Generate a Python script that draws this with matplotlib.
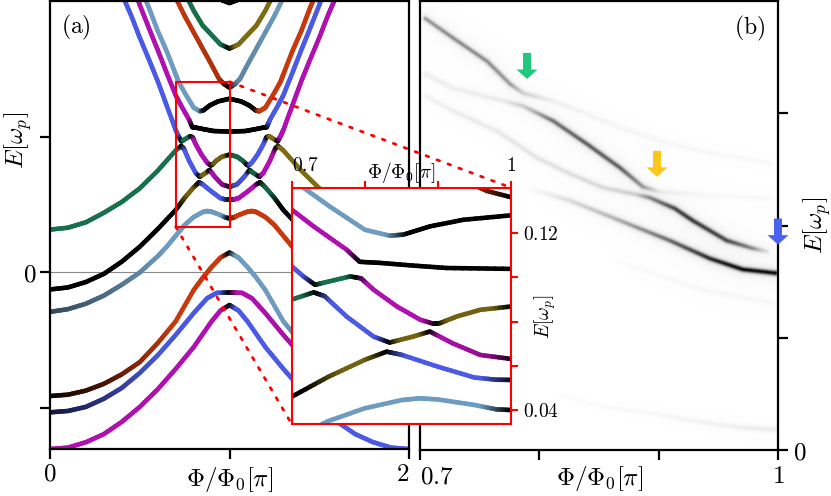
import numpy as np
import matplotlib
matplotlib.use('Agg')
import matplotlib.pyplot as plt
from matplotlib.collections import LineCollection
from matplotlib.patches import Rectangle, FancyArrow, ConnectionPatch
from matplotlib.colors import to_rgb

plt.rcParams['mathtext.fontset'] = 'cm'
plt.rcParams['font.family'] = 'DejaVu Serif'

# colours of the bands
pal = {'magenta': '#b010b0', 'blue': '#4a5ae6', 'lightblue': '#6e9cc0',
       'orange': '#c8380c', 'green': '#17704c', 'olive': '#7d6c12', 'black': '#000000'}
# colour a band gets on the other side of Phi = pi
swap = {'magenta': 'blue', 'blue': 'magenta', 'lightblue': 'orange', 'orange': 'lightblue',
        'green': 'olive', 'olive': 'green', 'black': 'black'}

# ---- panel (a): bands for Phi/Phi0 in [0, 1], mirrored about 1 ----
x_r1 = [0, 0.1, 0.2, 0.3, 0.4, 0.5, 0.6, 0.7, 0.8, 0.9, 0.95, 1.0]
e_r1 = [-0.130, -0.129, -0.125, -0.119, -0.110, -0.099, -0.086, -0.071, -0.055, -0.036, -0.028, -0.024]
c_r1 = [(0, 'magenta', 1), (0.96, 'magenta', 1), (1.0, 'magenta', 0)]

x_r2 = [0, 0.1, 0.2, 0.3, 0.4, 0.5, 0.6, 0.7, 0.8, 0.875, 0.93, 1.0]
e_r2 = [-0.103, -0.102, -0.099, -0.093, -0.085, -0.074, -0.061, -0.046, -0.030, -0.019, -0.015, -0.0147]
c_r2 = [(0, 'blue', 0.25), (0.3, 'blue', 0.55), (0.6, 'blue', 0.95), (0.95, 'blue', 1), (1.0, 'blue', 0)]

x_r3 = [0, 0.1, 0.2, 0.3, 0.4, 0.5, 0.6, 0.7, 0.8, 0.85, 0.9, 0.95, 1.0]
e_r3 = [-0.091, -0.090, -0.087, -0.082, -0.075, -0.066, -0.052, -0.036, -0.013, -0.004, 0.004, 0.011, 0.0147]
c_r3 = [(0, 'orange', 0.05), (0.3, 'orange', 0.35), (0.6, 'orange', 0.85), (0.7, 'orange', 1),
        (0.96, 'orange', 1), (1.0, 'orange', 0)]

x_r4 = [0, 0.1, 0.2, 0.3, 0.4, 0.5, 0.6, 0.65, 0.7, 0.75, 0.8, 0.85, 0.875, 0.9, 0.95, 0.98, 1.0]
e_r4 = [-0.029, -0.027, -0.023, -0.017, -0.009, 0.000, 0.012, 0.019, 0.027, 0.035, 0.0408, 0.0445,
        0.0453, 0.0448, 0.0423, 0.0403, 0.040]
c_r4 = [(0, 'lightblue', 0.45), (0.4, 'lightblue', 0.75), (0.65, 'lightblue', 1), (0.96, 'lightblue', 1),
        (1.0, 'lightblue', 0)]

x_r5 = [0, 0.1, 0.2, 0.3, 0.4, 0.5, 0.6, 0.7, 0.75, 0.8, 0.83, 0.85, 0.9, 0.95, 0.98, 1.0]
e_r5 = [-0.0125, -0.011, -0.007, -0.001, 0.008, 0.019, 0.032, 0.046, 0.055, 0.0627, 0.0664, 0.065,
        0.0596, 0.0547, 0.0537, 0.0536]
c_r5 = [(0, 'olive', 0), (0.72, 'olive', 0), (0.77, 'olive', 0.9), (0.80, 'olive', 0.9), (0.83, 'olive', 0),
        (0.86, 'blue', 1), (0.96, 'blue', 1), (1.0, 'blue', 0.15)]

x_r6 = [0, 0.1, 0.2, 0.3, 0.4, 0.5, 0.6, 0.7, 0.73, 0.745, 0.775, 0.812, 0.834, 0.866, 0.889, 0.92, 0.958, 1.0]
e_r6 = [0.0316, 0.033, 0.037, 0.044, 0.052, 0.062, 0.075, 0.0899, 0.0932, 0.0915, 0.0823, 0.0732, 0.0705,
        0.0732, 0.0755, 0.0702, 0.0649, 0.0631]
c_r6 = [(0, 'green', 1), (0.715, 'green', 1), (0.736, 'green', 0), (0.755, 'blue', 1), (0.815, 'blue', 1),
        (0.834, 'blue', 0), (0.85, 'olive', 0.9), (0.875, 'olive', 0.9), (0.889, 'olive', 0),
        (0.905, 'magenta', 1), (0.97, 'magenta', 0.8), (1.0, 'magenta', 0.2)]

x_r7 = [0.4, 0.45, 0.5, 0.557, 0.6, 0.65, 0.7, 0.716, 0.732, 0.752, 0.78, 0.795, 0.812, 0.844, 0.876,
        0.894, 0.903, 0.926, 0.958, 1.0]
e_r7 = [0.205, 0.19, 0.173, 0.155, 0.141, 0.123, 0.105, 0.1004, 0.0966, 0.0982, 0.1004, 0.0995, 0.0944,
        0.0868, 0.0808, 0.079, 0.0793, 0.0823, 0.0853, 0.0868]
c_r7 = [(0.4, 'blue', 1), (0.715, 'blue', 1), (0.732, 'blue', 0), (0.745, 'green', 1), (0.775, 'green', 1),
        (0.789, 'green', 0), (0.805, 'magenta', 1), (0.88, 'magenta', 1), (0.9, 'magenta', 0),
        (0.915, 'olive', 0.9), (0.975, 'olive', 0.9), (1.0, 'olive', 0)]

x_r8 = [0.48, 0.5, 0.557, 0.6, 0.65, 0.7, 0.73, 0.775, 0.793, 0.821, 0.866, 0.912, 1.0]
e_r8 = [0.205, 0.197, 0.178, 0.164, 0.147, 0.1306, 0.123, 0.1125, 0.107, 0.1065, 0.1053, 0.1042, 0.1038]
c_r8 = [(0.48, 'magenta', 1), (0.775, 'magenta', 1), (0.793, 'magenta', 0), (1.0, 'magenta', 0)]

x_r9 = [0.52, 0.557, 0.6, 0.65, 0.7, 0.716, 0.752, 0.8, 0.834, 0.853, 0.889, 0.935, 1.0]
e_r9 = [0.205, 0.193, 0.178, 0.163, 0.146, 0.1405, 0.132, 0.1215, 0.1188, 0.1193, 0.123, 0.126, 0.128]
c_r9 = [(0.52, 'lightblue', 1), (0.83, 'lightblue', 1), (0.86, 'lightblue', 0), (1.0, 'lightblue', 0)]

x_r10 = [0.69, 0.75, 0.8, 0.85, 0.9, 0.94, 0.967, 1.0]
e_r10 = [0.205, 0.189, 0.177, 0.165, 0.153, 0.143, 0.139, 0.1362]
c_r10 = [(0.69, 'orange', 1), (0.95, 'orange', 0.85), (1.0, 'orange', 0)]

x_r11 = [0.75, 0.8, 0.85, 0.9, 0.95, 1.0]
e_r11 = [0.206, 0.193, 0.182, 0.175, 0.168, 0.165]
c_r11 = [(0.75, 'green', 1), (0.96, 'green', 1), (1.0, 'green', 0)]

x_r12 = [0.9, 0.95, 1.0]
e_r12 = [0.208, 0.201, 0.1985]
c_r12 = [(0.9, 'black', 0), (1.0, 'black', 0)]

bands = [(x_r1, e_r1, c_r1), (x_r2, e_r2, c_r2), (x_r3, e_r3, c_r3), (x_r4, e_r4, c_r4),
         (x_r5, e_r5, c_r5), (x_r6, e_r6, c_r6), (x_r7, e_r7, c_r7), (x_r8, e_r8, c_r8),
         (x_r9, e_r9, c_r9), (x_r10, e_r10, c_r10), (x_r11, e_r11, c_r11), (x_r12, e_r12, c_r12)]

# ---- panel (b): spectral lines (x, energy, darkness along the line) ----
b1_x = [0.7042, 0.7277, 0.7561, 0.7754, 0.7863, 0.8115, 0.8399, 0.8676, 0.9011, 0.9346, 0.9958]
b1_e = [0.1924, 0.1836, 0.1733, 0.1631, 0.1591, 0.1556, 0.1498, 0.1436, 0.1378, 0.1333, 0.1276]
b1_w = [0.5, 0.55, 0.55, 0.5, 0.3, 0.12, 0.09, 0.08, 0.07, 0.06, 0.05]

b2_x = [0.7042, 0.7277, 0.7696, 0.7863, 0.8115, 0.8399, 0.8676, 0.8869, 0.9011, 0.9430, 0.9958]
b2_e = [0.1676, 0.1613, 0.1556, 0.1533, 0.1467, 0.1364, 0.1258, 0.1173, 0.1151, 0.1133, 0.1120]
b2_w = [0.14, 0.14, 0.16, 0.3, 0.65, 0.72, 0.72, 0.5, 0.14, 0.06, 0.05]

b3_x = [0.7042, 0.7277, 0.7645, 0.7980, 0.8257, 0.8534, 0.8818, 0.8927, 0.9137, 0.9288, 0.9573, 0.9791, 0.9916]
b3_e = [0.1578, 0.1511, 0.1422, 0.1302, 0.1231, 0.1169, 0.1138, 0.1124, 0.1076, 0.1022, 0.0933, 0.0898, 0.0884]
b3_w = [0.1, 0.14, 0.17, 0.2, 0.22, 0.25, 0.3, 0.55, 0.8, 0.85, 0.8, 0.55, 0.2]

b4_x = [0.7922, 0.8257, 0.8676, 0.9095, 0.9430, 0.9707, 0.9992]
b4_e = [0.1164, 0.1111, 0.1022, 0.0933, 0.0853, 0.0804, 0.0787]
b4_w = [0.03, 0.25, 0.45, 0.68, 0.9, 1.0, 1.0]

b5_x = [0.8676, 0.9011, 0.9388, 0.9975]
b5_e = [0.0836, 0.0778, 0.0711, 0.0653]
b5_w = [0.03, 0.05, 0.06, 0.06]

b6_x = [0.8173, 0.8534, 0.8927, 0.9237, 0.9682, 0.9992]
b6_e = [0.0244, 0.0191, 0.0164, 0.0133, 0.0098, 0.0089]
b6_w = [0.02, 0.04, 0.06, 0.09, 0.13, 0.15]

lines_b = [(b1_x, b1_e, b1_w), (b2_x, b2_e, b2_w), (b3_x, b3_e, b3_w),
           (b4_x, b4_e, b4_w), (b5_x, b5_e, b5_w), (b6_x, b6_e, b6_w)]

arrow_x = [0.7897, 0.8986, 1.0]
arrow_top = [0.1769, 0.1333, 0.1031]
arrow_col = ['#1ec97c', '#ffc61a', '#4a62f0']

# zoom window shown in the inset
zoom_x = (0.7, 1.0)
zoom_e = (0.0337, 0.1405)


def split(xs, ys, n=8):
    # cut every straight piece in n parts so the colour can change along it
    segs, mids = [], []
    for i in range(len(xs) - 1):
        t = np.linspace(0, 1, n + 1)
        px = xs[i] + (xs[i + 1] - xs[i]) * t
        py = ys[i] + (ys[i + 1] - ys[i]) * t
        for j in range(n):
            segs.append([(px[j], py[j]), (px[j + 1], py[j + 1])])
            mids.append(0.5 * (px[j] + px[j + 1]))
    return segs, np.array(mids)


def draw_band(ax, xs, es, keys, lw):
    xs = np.asarray(xs, float)
    es = np.asarray(es, float)
    xx = np.concatenate([xs, 2 - xs[::-1][1:]])
    ee = np.concatenate([es, es[::-1][1:]])
    kx = [k[0] for k in keys]
    kc = [np.array(to_rgb(pal[k[1]])) * k[2] for k in keys]
    for k in keys[::-1]:
        if k[0] < 1.0:
            kx.append(2 - k[0])
            kc.append(np.array(to_rgb(pal[swap[k[1]]])) * k[2])
    kc = np.array(kc)
    segs, mids = split(xx, ee)
    cols = np.stack([np.interp(mids, kx, kc[:, i]) for i in range(3)], axis=1)
    lc = LineCollection(segs, colors=cols, linewidths=lw, capstyle='round', joinstyle='round')
    ax.add_collection(lc)


def spectral_image(lines, nx=360, ny=450):
    # broadened picture of the lines, distances measured in screen pixels
    gx = np.linspace(0.7, 1.0, nx)
    ge = np.linspace(0.0, 0.2, ny)
    X, E = np.meshgrid(gx, ge)
    sx, se = 358 / 0.3, 450 / 0.2
    img = np.zeros_like(X)
    for xs, es, ws in lines:
        segs, mids = split(np.asarray(xs, float), np.asarray(es, float), n=30)
        w = np.interp(mids, xs, ws)
        best = np.zeros_like(X)
        for (p0, p1), wi in zip(segs, w):
            d2 = ((X - p0[0]) * sx) ** 2 + ((E - p0[1]) * se) ** 2
            prof = wi * (0.75 * np.exp(-d2 / (2 * 1.8 ** 2)) + 0.25 / (1 + d2 / 4.5 ** 2))
            best = np.maximum(best, prof)
        img += best
    return np.clip(img, 0, 1)


fig = plt.figure(figsize=(8.31, 4.96), dpi=100)
ax = fig.add_axes([0.0602, 0.0948, 0.4320, 0.9032])
axb = fig.add_axes([0.5054, 0.0927, 0.4308, 0.9052])
axin = fig.add_axes([0.3510, 0.1452, 0.2639, 0.4764])

fs = 18
red = '#ff0000'

# ---------- panel (a) ----------
ax.axhline(0, color='#8a8a8a', lw=0.8, zorder=1)
for xs, es, keys in bands:
    draw_band(ax, xs, es, keys, 3.3)
ax.set_xlim(0, 2)
ax.set_ylim(-0.13, 0.2)
ax.add_patch(Rectangle((zoom_x[0], zoom_e[0]), zoom_x[1] - zoom_x[0], zoom_e[1] - zoom_e[0],
                       fill=False, ec=red, lw=1.5, zorder=4))
ax.set_xticks([0, 1, 2])
ax.set_xticklabels(['$0$', '', '$2$'], fontsize=fs)
ax.get_xticklabels()[2].set_ha('right')
ax.set_yticks([-0.1, 0, 0.1])
ax.set_yticklabels(['', '$0$', ''], fontsize=fs)
ax.tick_params(direction='out', length=7, width=1.6, pad=3)
for s in ax.spines.values():
    s.set_linewidth(1.6)
ax.set_xlabel(r'$\Phi/\Phi_0[\pi]$', fontsize=fs)
ax.xaxis.set_label_coords(0.5, -0.036)
ax.set_ylabel(r'$E[\omega_p]$', fontsize=fs)
ax.yaxis.set_label_coords(-0.045, 0.69)
ax.text(0.072, 0.94, r'$\mathrm{(a)}$', transform=ax.transAxes, fontsize=17, ha='center', va='center')

# ---------- panel (b) ----------
axb.imshow(spectral_image(lines_b), cmap='Greys', vmin=0, vmax=1, origin='lower',
           extent=(0.7, 1.0, 0.0, 0.2), aspect='auto', interpolation='bilinear')
axb.set_xlim(0.7, 1.0)
axb.set_ylim(0, 0.2)
axb.set_xticks([0.7, 0.8, 0.9, 1.0])
axb.set_xticklabels(['$0.7$', '', '', '$1$'], fontsize=fs)
axb.get_xticklabels()[0].set_ha('left')
axb.yaxis.tick_right()
axb.yaxis.set_label_position('right')
axb.set_yticks([0, 0.05, 0.1, 0.15])
axb.set_yticklabels(['$0$', '', '', ''], fontsize=fs)
axb.tick_params(direction='out', length=7, width=1.6, pad=4)
for s in axb.spines.values():
    s.set_linewidth(1.6)
axb.set_xlabel(r'$\Phi/\Phi_0[\pi]$', fontsize=fs)
axb.xaxis.set_label_coords(0.503, -0.032)
axb.set_ylabel(r'$E[\omega_p]$', fontsize=fs)
axb.yaxis.set_label_coords(1.064, 0.5)
axb.text(0.922, 0.938, r'$\mathrm{(b)}$', transform=axb.transAxes, fontsize=17, ha='center', va='center')
for ax_x, top, col in zip(arrow_x, arrow_top, arrow_col):
    axb.add_patch(FancyArrow(ax_x, top, 0, -0.0116, width=0.0067, head_width=0.0176,
                             head_length=0.0042, length_includes_head=True, color=col, lw=0,
                             clip_on=False, zorder=6))

# ---------- inset ----------
axin.set_facecolor('white')
for xs, es, keys in bands:
    draw_band(axin, xs, es, keys, 3.3)
axin.set_xlim(*zoom_x)
axin.set_ylim(*zoom_e)
axin.xaxis.tick_top()
axin.xaxis.set_label_position('top')
axin.yaxis.tick_right()
axin.yaxis.set_label_position('right')
axin.set_xticks([0.7, 0.8, 0.9, 1.0])
axin.set_xticklabels(['$0.7$', '', '', '$1$'], fontsize=14)
axin.get_xticklabels()[0].set_ha('left')
axin.set_yticks([0.04, 0.06, 0.08, 0.10, 0.12])
axin.set_yticklabels(['$0.04$', '', '', '', '$0.12$'], fontsize=14)
axin.tick_params(direction='out', length=5, width=1.5, color=red, pad=4)
for s in axin.spines.values():
    s.set_linewidth(1.5)
    s.set_color(red)
axin.set_xlabel(r'$\Phi/\Phi_0[\pi]$', fontsize=14)
axin.xaxis.set_label_coords(0.5, 1.04)
axin.set_ylabel(r'$E[\omega_p]$', fontsize=14)
axin.yaxis.set_label_coords(1.10, 0.457)

# dotted connectors between the box and the inset
for pa, pb in [((zoom_x[1], zoom_e[1]), (1, 1)), ((zoom_x[0], zoom_e[0]), (0, 0))]:
    cp = ConnectionPatch(xyA=pa, coordsA=ax.transData, xyB=pb, coordsB=axin.transAxes,
                         color=red, lw=2.0, ls=(0, (1, 3.2)), zorder=10)
    fig.add_artist(cp)

fig.savefig('out.png', dpi=100)
